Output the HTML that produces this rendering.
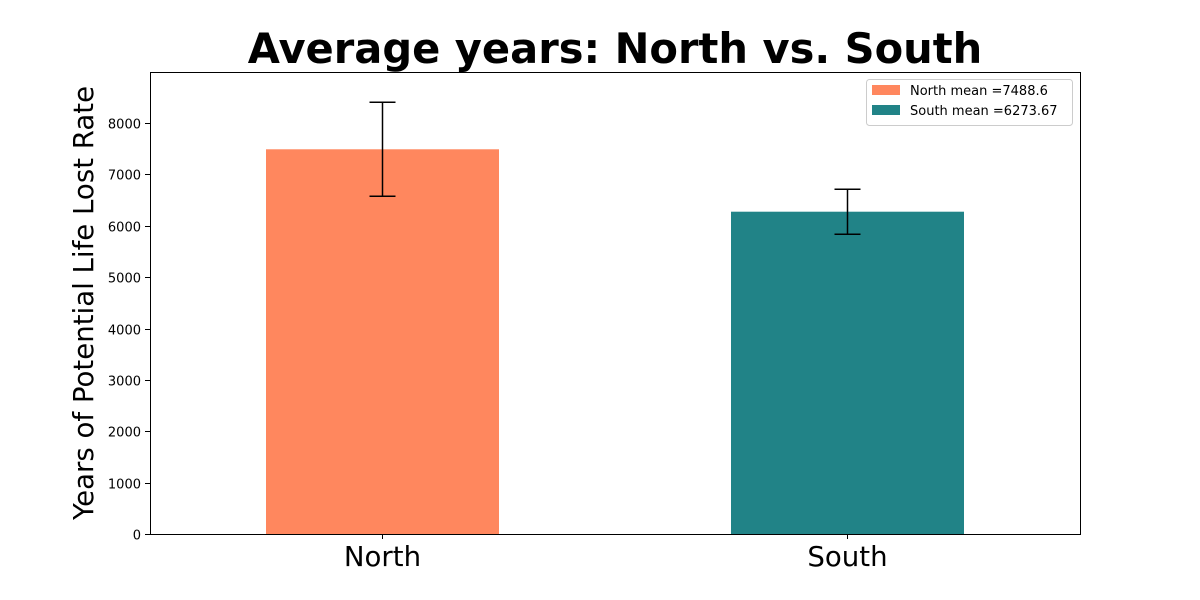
<!DOCTYPE html>
<html><head><meta charset="utf-8"><style>
html,body{margin:0;padding:0;background:#fff;}
svg{display:block;font-family:"DejaVu Sans","Liberation Sans",sans-serif;}
</style></head><body>
<svg id="chart" width="1200" height="600">
<text x="615" y="63" text-anchor="middle" font-size="41.6" font-weight="bold">Average years: North vs. South</text>
<text transform="translate(93,303) rotate(-90)" text-anchor="middle" font-size="27.6">Years of Potential Life Lost Rate</text>
<g id="bars"></g>
<g id="yaxis"></g>
<g id="xaxis"></g>
<rect x="150.5" y="72.5" width="930" height="462" fill="none" stroke="#000" stroke-width="1"/>
<g id="legend">
<rect x="866.5" y="79.5" width="206" height="46" rx="3" fill="#fff" stroke="#ccc"/>
</g>
</svg>
<script>
const categories = ["North", "South"];
const means = [7488.6, 6273.67];
const errors = [915, 438];
const colors = ["#ff875e", "#218387"];
const yTicks = [0,1000,2000,3000,4000,5000,6000,7000,8000];
const legendLabels = ["North mean =7488.6", "South mean =6273.67"];

const NS="http://www.w3.org/2000/svg";
const L=150,R=1080,T=72,B=534,YMAX=8993;
const y=v=>B-(v/YMAX)*(B-T);
const xc=i=>L+(i+0.5)*(R-L)/categories.length;
const bw=233;
function mk(tag,attrs,parent,text){const e=document.createElementNS(NS,tag);for(const k in attrs)e.setAttribute(k,attrs[k]);if(text!==undefined)e.textContent=text;parent.appendChild(e);return e;}
const bars=document.getElementById('bars');
categories.forEach((c,i)=>{
  const r=mk('rect',{x:xc(i)-bw/2,y:y(means[i]),width:bw,height:B-y(means[i]),fill:colors[i]},bars);
  
  
  const g=mk('g',{stroke:'#000','stroke-width':1.5},bars);
  
  
  const t=y(means[i]+errors[i]),b=y(means[i]-errors[i]),x=xc(i);
  mk('line',{x1:x,x2:x,y1:t,y2:b},g);
  mk('line',{x1:x-13,x2:x+13,y1:t,y2:t},g);
  mk('line',{x1:x-13,x2:x+13,y1:b,y2:b},g);
});
const ya=document.getElementById('yaxis');
yTicks.forEach(v=>{
  const yy=Math.round(y(v))+0.5;
  mk('line',{x1:L-5,x2:L,y1:yy,y2:yy,stroke:'#000'},ya);
  const t=mk('text',{x:L-9,y:yy+5,'text-anchor':'end','font-size':13},ya,String(v));
  
  
});
const xa=document.getElementById('xaxis');
categories.forEach((c,i)=>{
  mk('line',{x1:xc(i),x2:xc(i),y1:B,y2:B+5,stroke:'#000'},xa);
  const t=mk('text',{x:xc(i),y:566,'text-anchor':'middle','font-size':27.6},xa,c);
  
  
});
const lg=document.getElementById('legend');
legendLabels.forEach((s,i)=>{
  const yy=85+i*20;
  const e=mk('g',{},lg);
  
  
  mk('rect',{x:872,y:yy,width:28,height:10,fill:colors[i]},e);
  mk('text',{x:910,y:yy+10,'font-size':13},e,s);
});
</script>
</body></html>
